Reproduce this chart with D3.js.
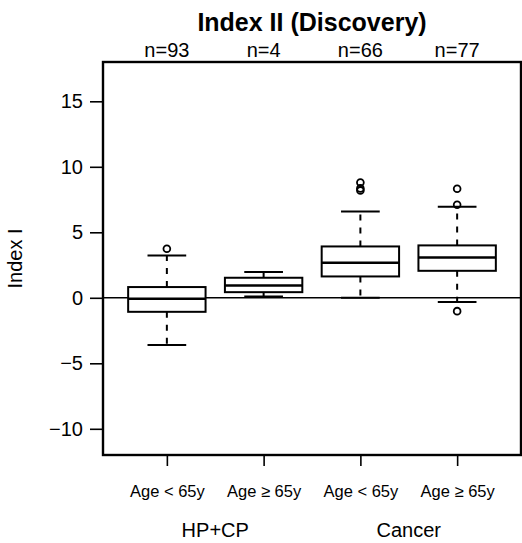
<!DOCTYPE html>
<html>
<head>
<meta charset="utf-8">
<script src="https://cdn.jsdelivr.net/npm/d3@7"></script>
<style>
  html, body { margin: 0; padding: 0; background: #fff; }
  svg { display: block; font-family: "Liberation Sans", Arial, Helvetica, sans-serif; }
</style>
</head>
<body>
<div id="chart"></div>
<script>
// Box summaries of Index I per subgroup
const categories = ["Age < 65y", "Age \u2265 65y", "Age < 65y", "Age \u2265 65y"];
const groups = ["HP+CP", "Cancer"];
const counts = [93, 4, 66, 77];
const q1 = [-1.07, 0.43, 1.63, 2.06];
const medians = [-0.07, 0.94, 2.67, 3.08];
const q3 = [0.82, 1.53, 3.92, 4.0];
const whiskerLow = [-3.61, 0.10, 0.0, -0.33];
const whiskerHigh = [3.23, 1.96, 6.59, 6.95];
const outliers = [[3.74], [], [8.8, 8.35, 8.2], [7.1, 8.32, -1.02]];
const yTicks = [-10, -5, 0, 5, 10, 15];

const W = 522, H = 543;
const frame = { left: 103, right: 521, top: 62, bottom: 455 };
const FONT = "Liberation Sans, Arial, sans-serif";

const svg = d3.select("#chart").append("svg")
  .attr("width", W).attr("height", H);
svg.append("rect").attr("width", W).attr("height", H).attr("fill", "#fff");

const x = d3.scaleLinear().domain([0.34, 4.66]).range([frame.left, frame.right]);
const y = d3.scaleLinear().domain([-12, 18]).range([frame.bottom, frame.top]);

const boxes = categories.map((c, i) => ({
  pos: i + 1, label: c, n: counts[i],
  q1: q1[i], med: medians[i], q3: q3[i],
  lo: whiskerLow[i], hi: whiskerHigh[i], out: outliers[i]
}));

const boxHalf = 0.4, stapleHalf = 0.2;

// reference line at zero
svg.append("line")
  .attr("x1", frame.left).attr("x2", frame.right)
  .attr("y1", y(0)).attr("y2", y(0))
  .attr("stroke", "#000").attr("stroke-width", 1.6);

const g = svg.append("g").selectAll("g").data(boxes).join("g");

// dashed whiskers
g.append("line")
  .attr("x1", d => x(d.pos)).attr("x2", d => x(d.pos))
  .attr("y1", d => y(d.q3)).attr("y2", d => y(d.hi))
  .attr("stroke", "#000").attr("stroke-width", 2).attr("stroke-dasharray", "6,7");
g.append("line")
  .attr("x1", d => x(d.pos)).attr("x2", d => x(d.pos))
  .attr("y1", d => y(d.q1)).attr("y2", d => y(d.lo))
  .attr("stroke", "#000").attr("stroke-width", 2).attr("stroke-dasharray", "6,7");

// staples
["hi", "lo"].forEach(k => {
  g.append("line")
    .attr("x1", d => x(d.pos - stapleHalf)).attr("x2", d => x(d.pos + stapleHalf))
    .attr("y1", d => y(d[k])).attr("y2", d => y(d[k]))
    .attr("stroke", "#000").attr("stroke-width", 2);
});

// boxes
g.append("rect")
  .attr("x", d => x(d.pos - boxHalf))
  .attr("width", d => x(d.pos + boxHalf) - x(d.pos - boxHalf))
  .attr("y", d => y(d.q3))
  .attr("height", d => y(d.q1) - y(d.q3))
  .attr("fill", "#fff").attr("stroke", "#000").attr("stroke-width", 2);

// medians
g.append("line")
  .attr("x1", d => x(d.pos - boxHalf)).attr("x2", d => x(d.pos + boxHalf))
  .attr("y1", d => y(d.med)).attr("y2", d => y(d.med))
  .attr("stroke", "#000").attr("stroke-width", 2.6);

// outliers
g.selectAll("circle").data(d => d.out.map(v => ({ pos: d.pos, v })))
  .join("circle")
  .attr("cx", d => x(d.pos)).attr("cy", d => y(d.v)).attr("r", 3.4)
  .attr("fill", "none").attr("stroke", "#000").attr("stroke-width", 1.8);

// y axis
const yAxis = d3.axisLeft(y).tickValues(yTicks).tickSize(13).tickPadding(7)
  .tickFormat(d => d < 0 ? "\u2212" + Math.abs(d) : String(d));
const ya = svg.append("g").attr("transform", `translate(${frame.left},0)`).call(yAxis);
ya.select(".domain").remove();
ya.selectAll(".tick line").attr("stroke", "#000").attr("stroke-width", 1.6);
ya.selectAll(".tick text").attr("fill", "#000").style("font-size", "20px")
  .style("font-family", FONT);

// x axis
const xAxis = d3.axisBottom(x).tickValues(boxes.map(d => d.pos)).tickSize(11).tickPadding(19)
  .tickFormat((d, i) => categories[i]);
const xa = svg.append("g").attr("transform", `translate(0,${frame.bottom})`).call(xAxis);
xa.select(".domain").remove();
xa.selectAll(".tick line").attr("stroke", "#000").attr("stroke-width", 1.6);
xa.selectAll(".tick text").attr("fill", "#000").style("font-size", "16.5px")
  .style("font-family", FONT);

// frame
svg.append("rect")
  .attr("x", frame.left).attr("y", frame.top)
  .attr("width", frame.right - frame.left).attr("height", frame.bottom - frame.top)
  .attr("fill", "none").attr("stroke", "#000").attr("stroke-width", 2.4);

// n counts above each box
svg.selectAll("text.n").data(boxes).join("text").attr("class", "n")
  .attr("x", d => x(d.pos)).attr("y", 57)
  .attr("text-anchor", "middle").style("font-size", "20px")
  .text(d => "n=" + d.n);

// group labels
groups.forEach((gr, i) => {
  svg.append("text")
    .attr("x", (x(2 * i + 1) + x(2 * i + 2)) / 2).attr("y", 537)
    .attr("text-anchor", "middle").style("font-size", "20px")
    .text(gr);
});

// title
svg.append("text")
  .attr("x", (frame.left + frame.right) / 2).attr("y", 31)
  .attr("text-anchor", "middle").style("font-size", "25px").style("font-weight", "bold")
  .text("Index II (Discovery)");

// y label
svg.append("text")
  .attr("transform", `translate(22,${(frame.top + frame.bottom) / 2}) rotate(-90)`)
  .attr("text-anchor", "middle").style("font-size", "20px")
  .text("Index I");
</script>
</body>
</html>
